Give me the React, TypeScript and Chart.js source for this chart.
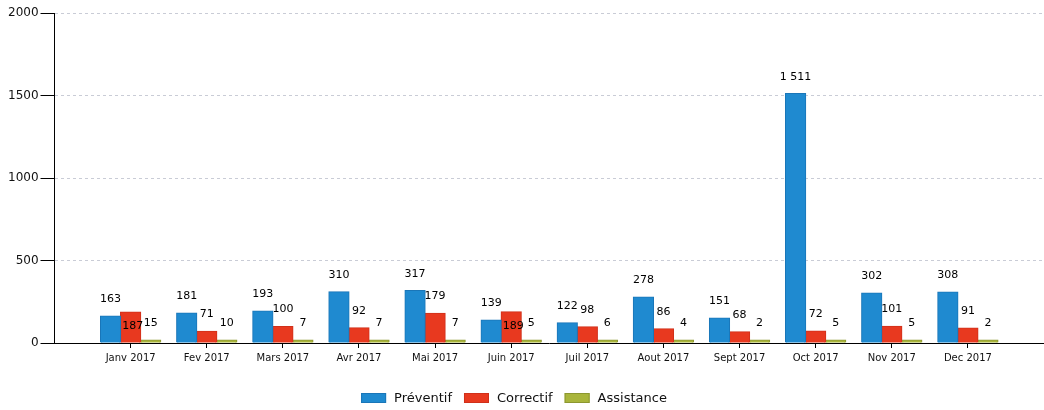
import React, { useEffect, useRef } from "react";
import { Chart, registerables } from "chart.js";

Chart.register(...registerables);

const categories = [
  "Janv 2017", "Fev 2017", "Mars 2017", "Avr 2017", "Mai 2017", "Juin 2017",
  "Juil 2017", "Aout 2017", "Sept 2017", "Oct 2017", "Nov 2017", "Dec 2017",
];
const preventif = [163, 181, 193, 310, 317, 139, 122, 278, 151, 1511, 302, 308];
const correctif = [187, 71, 100, 92, 179, 189, 98, 86, 68, 72, 101, 91];
const assistance = [15, 10, 7, 7, 7, 5, 6, 4, 2, 5, 5, 2];
const seriesNames = ["Préventif", "Correctif", "Assistance"];
const yTicks = [0, 500, 1000, 1500, 2000];

const FONT = '"DejaVu Sans", sans-serif';

const fmt = (v: number) => String(v).replace(/\B(?=(\d{3})+(?!\d))/g, " ");

const valueLabels = {
  id: "valueLabels",
  afterDatasetsDraw(chart: any) {
    const ctx = chart.ctx;
    ctx.save();
    ctx.font = `11px ${FONT}`;
    ctx.fillStyle = "#000";
    ctx.textAlign = "center";
    ctx.textBaseline = "middle";
    const placed: any[][] = [];
    chart.data.datasets.forEach((ds: any, di: number) => {
      const meta = chart.getDatasetMeta(di);
      meta.data.forEach((el: any, i: number) => {
        const v = ds.data[i].y;
        const txt = fmt(v);
        const w = ctx.measureText(txt).width;
        let y = el.y - 17;
        const rect = { l: el.x - w / 2 - 1, r: el.x + w / 2 + 1, t: y - 6, b: y + 6 };
        const prev = placed[i] || (placed[i] = []);
        const hit = prev.some((p) => p.l < rect.r && rect.l < p.r && p.t < rect.b && rect.t < p.b);
        if (hit) {
          y = el.y + 14;
          rect.t = y - 6;
          rect.b = y + 6;
        }
        prev.push(rect);
        ctx.fillText(txt, el.x + (hit ? 2 : 0), y);
      });
    });
    ctx.restore();
  },
};

const customLegend = {
  id: "customLegend",
  afterDraw(chart: any) {
    const ctx = chart.ctx;
    ctx.save();
    ctx.font = `13px ${FONT}`;
    ctx.textBaseline = "middle";
    ctx.textAlign = "left";
    const boxW = 25, boxH = 10, gap = 8, itemGap = 12;
    const items = chart.data.datasets.map((ds: any) => ({
      text: ds.label,
      color: ds.backgroundColor,
      border: ds.borderColor,
      w: ctx.measureText(ds.label).width,
    }));
    const total = items.reduce((s: number, it: any) => s + boxW + gap + it.w, 0) + itemGap * (items.length - 1);
    let x = chart.width / 2 - 8 - total / 2;
    const cy = 398;
    items.forEach((it: any) => {
      ctx.fillStyle = it.color;
      ctx.fillRect(x, cy - boxH / 2, boxW, boxH);
      ctx.strokeStyle = it.border;
      ctx.lineWidth = 1;
      ctx.strokeRect(x + 0.5, cy - boxH / 2 + 0.5, boxW - 1, boxH - 1);
      ctx.fillStyle = "#111";
      ctx.fillText(it.text, x + boxW + gap, cy + 1);
      x += boxW + gap + it.w + itemGap;
    });
    ctx.restore();
  },
};

export default function App() {
  const ref = useRef<HTMLCanvasElement>(null);

  useEffect(() => {
    document.body.style.margin = "0";
    const toPts = (arr: number[]) => arr.map((v, i) => ({ x: i, y: v }));
    const chart = new Chart(ref.current as HTMLCanvasElement, {
      type: "bar",
      data: {
        datasets: [
          { label: seriesNames[0], data: toPts(preventif), backgroundColor: "#1f8ad0", borderColor: "#1a76b8", borderWidth: 1, inflateAmount: 0.6 },
          { label: seriesNames[1], data: toPts(correctif), backgroundColor: "#e8391f", borderColor: "#d0301a", borderWidth: 1, inflateAmount: 0.6 },
          { label: seriesNames[2], data: toPts(assistance), backgroundColor: "#a9b53c", borderColor: "#8c9730", borderWidth: 1, inflateAmount: 0.6, minBarLength: 3 },
        ],
      } as any,
      options: {
        animation: false,
        responsive: false,
        devicePixelRatio: 1,
        layout: { padding: { left: 6, top: 13, right: 0, bottom: 42 } },
        datasets: { bar: { categoryPercentage: 0.79, barPercentage: 1.0 } },
        plugins: { legend: { display: false }, tooltip: { enabled: false } },
        scales: {
          x: {
            type: "linear",
            min: -1,
            max: 12,
            offset: false,
            afterBuildTicks: (scale: any) => {
              scale.ticks = categories.map((_, i) => ({ value: i }));
            },
            ticks: {
              autoSkip: false,
              maxRotation: 0,
              padding: 4,
              color: "#111",
              font: { family: FONT, size: 10 },
              callback: (v: any) => categories[v as number],
            },
            grid: { offset: false, drawOnChartArea: false, drawTicks: true, tickLength: 5, tickColor: "#000", tickWidth: 1 },
            border: { display: true, color: "#000", width: 1 },
          },
          y: {
            min: 0,
            max: 2000,
            afterBuildTicks: (scale: any) => {
              scale.ticks = yTicks.map((v) => ({ value: v }));
            },
            ticks: {
              padding: 2,
              color: "#111",
              font: { family: FONT, size: 12 },
              callback: (v: any) => String(v),
            },
            grid: {
              color: (c: any) => (c.tick && c.tick.value === 0 ? "rgba(0,0,0,0)" : "#c9ccd6"),
              tickColor: "#000",
              tickLength: 14,
              tickWidth: 1,
              lineWidth: 1,
            },
            border: { display: true, color: "#000", width: 1, dash: [3, 3] },
          },
        },
      } as any,
      plugins: [valueLabels, customLegend],
    });
    return () => chart.destroy();
  }, []);

  return (
    <div style={{ width: 1044, height: 410, background: "#fff" }}>
      <canvas ref={ref} width={1044} height={410} />
    </div>
  );
}
